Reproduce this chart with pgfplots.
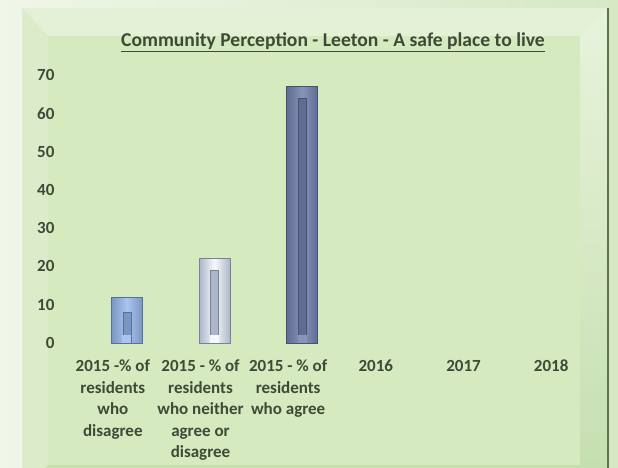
\documentclass[border=0pt]{standalone}
\usepackage{pgfplots}
\pgfplotsset{compat=1.18}
\usepackage{fontspec}
\setmainfont{Carlito}
\definecolor{txt}{RGB}{62,74,56}
\definecolor{face}{RGB}{213,234,190}
\definecolor{bevtop}{RGB}{228,241,214}
\definecolor{bevleft}{RGB}{220,236,203}
\definecolor{bevright}{RGB}{196,222,174}
\definecolor{bevbot}{RGB}{200,224,176}
\definecolor{edge}{RGB}{88,120,72}
\definecolor{bonefill}{RGB}{170,198,236}
\definecolor{boneedge}{RGB}{84,112,160}
\definecolor{boneinner}{RGB}{122,150,194}
\definecolor{btwofill}{RGB}{246,248,252}
\definecolor{btwoedge}{RGB}{120,130,148}
\definecolor{btwoinner}{RGB}{172,182,200}
\definecolor{bthrfill}{RGB}{136,148,184}
\definecolor{bthredge}{RGB}{72,82,112}
\definecolor{bthrinner}{RGB}{96,108,146}
\begin{document}
\begin{tikzpicture}
\useasboundingbox (0pt,0pt) rectangle (618pt,468pt);
% page background
\shade[left color={rgb,255:red,240;green,246;blue,232}, right color={rgb,255:red,214;green,232;blue,196}] (0pt,0pt) rectangle (618pt,468pt);
% frame with bevel
\fill[face] (22pt,-25pt) rectangle (608pt,460pt);
\fill[bevtop] (22pt,460pt) -- (608pt,460pt) -- (580pt,432pt) -- (48pt,432pt) -- cycle;
\fill[bevleft] (22pt,460pt) -- (48pt,432pt) -- (48pt,3pt) -- (22pt,-25pt) -- cycle;
\shade[top color={rgb,255:red,232;green,243;blue,220}, bottom color=bevright] (608pt,460pt) -- (580pt,432pt) -- (580pt,3pt) -- (608pt,-25pt) -- cycle;
\fill[bevbot] (22pt,-25pt) -- (48pt,3pt) -- (580pt,3pt) -- (608pt,-25pt) -- cycle;
\fill[face] (48pt,3pt) rectangle (580pt,432pt);
\draw[edge, line width=2pt] (608pt,0pt) -- (608pt,460pt);
% title
\node[font=\fontsize{19.6}{23}\selectfont\bfseries, text=txt] at (333pt,426pt) {\underline{Community Perception - Leeton - A safe place to live}};
\begin{axis}[
  at={(69pt,125pt)}, anchor=south west,
  width=526pt, height=268pt, scale only axis,
  xmin=-0.5, xmax=5.5, ymin=0, ymax=70,
  axis x line*=bottom, axis y line*=left,
  axis line style={draw=none},
  major tick length=0pt,
  xtick={0,1,2,3,4,5},
  xticklabels={{\strut 2015 -\% of\\residents\\who\\disagree},{\strut 2015 - \% of\\residents\\who neither\\agree or\\disagree},{\strut 2015 - \% of\\residents\\who agree},{\strut 2016},{\strut 2017},{\strut 2018}},
  xticklabel style={align=center, font=\fontsize{17}{21.5}\selectfont\bfseries, text=txt, yshift=-10pt},
  ytick={0,10,...,70},
  yticklabel style={font=\fontsize{17}{20}\selectfont\bfseries, text=txt, xshift=-11pt},
  /pgf/number format/assume math mode=true,
  clip=false,
]
% bar 1: disagree
\addplot[ybar, bar width=31pt, bar shift=14pt, draw=boneedge, line width=0.8pt, left color=boneinner, right color=boneinner, middle color=bonefill] coordinates {(0,12)};
\addplot[ybar, bar width=8pt, bar shift=14pt, draw=boneedge, line width=0.5pt, fill=boneinner] coordinates {(0,8)};
\addplot[ybar, bar width=9pt, bar shift=14pt, draw=none, fill=bonefill] coordinates {(0,2)};
% bar 2: neither
\addplot[ybar, bar width=31pt, bar shift=14pt, draw=btwoedge, line width=0.8pt, left color=btwoinner, right color=btwoinner, middle color=btwofill] coordinates {(1,22)};
\addplot[ybar, bar width=8pt, bar shift=14pt, draw=btwoedge, line width=0.5pt, fill=btwoinner] coordinates {(1,19)};
\addplot[ybar, bar width=9pt, bar shift=14pt, draw=none, fill=btwofill] coordinates {(1,2)};
% bar 3: agree
\addplot[ybar, bar width=31pt, bar shift=14pt, draw=bthredge, line width=0.8pt, left color=bthrinner, right color=bthrinner, middle color=bthrfill] coordinates {(2,67)};
\addplot[ybar, bar width=8pt, bar shift=14pt, draw=bthredge, line width=0.5pt, fill=bthrinner] coordinates {(2,64)};
\addplot[ybar, bar width=9pt, bar shift=14pt, draw=none, fill=bthrfill] coordinates {(2,2)};
\end{axis}
\end{tikzpicture}
\end{document}
